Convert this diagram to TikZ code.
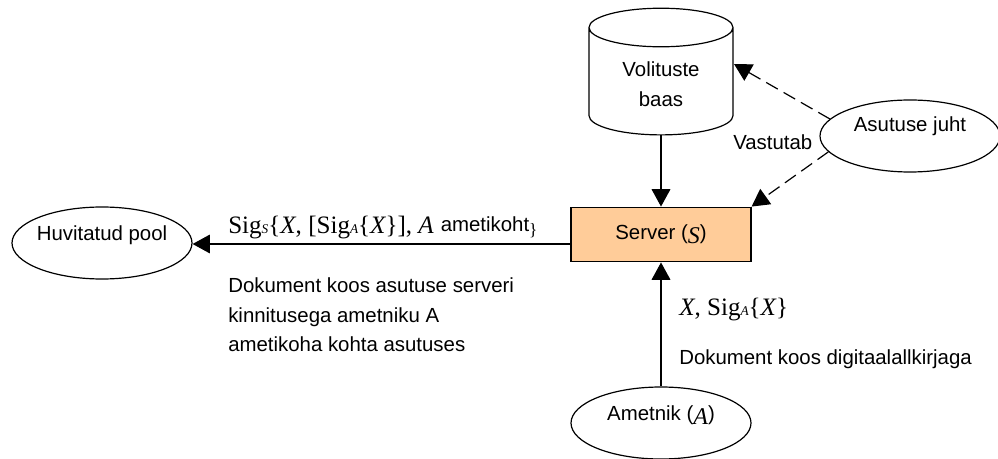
\documentclass[tikz,border=0pt]{standalone}
\usepackage{fontspec}
\setmainfont{Liberation Sans}
\newfontfamily\serifpart{Liberation Serif}
\usetikzlibrary{arrows.meta,shapes.geometric}
\definecolor{serverfill}{RGB}{255,204,153}
\newcommand{\vr}[1]{{\serifpart\fontsize{18.8}{18.8}\selectfont #1}}
\newcommand{\vrsub}[1]{{\serifpart\itshape\fontsize{10}{10}\selectfont #1}}
\newcommand{\vrit}[1]{{\serifpart\itshape\fontsize{18.8}{18.8}\selectfont #1}}
\newcommand{\vrlow}[1]{\raisebox{-3pt}{\serifpart\itshape\fontsize{18}{18}\selectfont #1}}
\tikzset{
    osaline/.style={draw, ellipse, line width=0.9pt, minimum width=135pt, minimum height=54pt, inner sep=-8pt},
    silt/.style={anchor=west, inner sep=0pt, align=left},
    noolt/.style={line width=0.9pt, -{Triangle[length=13pt,width=14pt]}},
    kriipsnool/.style={noolt, dash pattern=on 10pt off 5pt}
}
\begin{document}
\begin{tikzpicture}[x=0.75pt,y=-0.75pt,font=\fontsize{15.3}{22}\selectfont]
    \useasboundingbox (0,0) rectangle (998,459);
    \node[draw, line width=0.9pt, fill=serverfill, minimum width=135pt, minimum height=41pt, inner sep=0pt] (server) at (661,234.5) {Server (\vrlow{S})};
    \node[draw, line width=0.9pt, shape=cylinder, shape border rotate=90, aspect=0.5, minimum width=108pt, minimum height=95pt, inner sep=0pt, align=center] (baas) at (661,81.5) {\rule{0pt}{15pt}Volituste\\baas};
    \node[osaline] (huvitatud) at (102,243) {\raisebox{15pt}{Huvitatud pool}};
    \node[osaline] (juht) at (910,136) {\raisebox{18pt}{Asutuse juht}};
    \node[osaline] (ametnik) at (661,423) {\raisebox{15pt}{Ametnik (\vrlow{A})}};
    \coordinate (baasserv) at (734,64);
    \draw[noolt] (baas.south) -- (server.north);
    \draw[noolt] (server.west |- 0,244) -- (huvitatud.east |- 0,244);
    \draw[noolt] (ametnik.north) -- (server.south);
    \draw[kriipsnool] (juht.168) -- (baasserv);
    \draw[kriipsnool] (juht.191) -- (server.north east);
    \node[silt] (vastutab) at (733,142) {Vastutab};
    \node[silt] (allkiri) at (228,228) {\vr{Sig}\vrsub{S}\vr{\{}\vrit{X}\vr{, [Sig}\vrsub{A}\vr{\{}\vrit{X}\vr{\}], }\vrit{A} \hspace{1pt}\raisebox{1.5pt}{ametikoht}\raisebox{-1pt}{\serifpart\fontsize{13}{13}\selectfont\}}};
    \node[silt] (kinnitus) at (228,315) {Dokument koos asutuse serveri\\kinnitusega ametniku A\\ametikoha kohta asutuses};
    \node[silt] (xallkiri) at (679,310) {\vrit{X}\vr{, Sig}\vrsub{A}\vr{\{}\vrit{X}\vr{\}}};
    \node[silt] (digi) at (679,359) {Dokument koos digitaalallkirjaga};
\end{tikzpicture}
\end{document}
